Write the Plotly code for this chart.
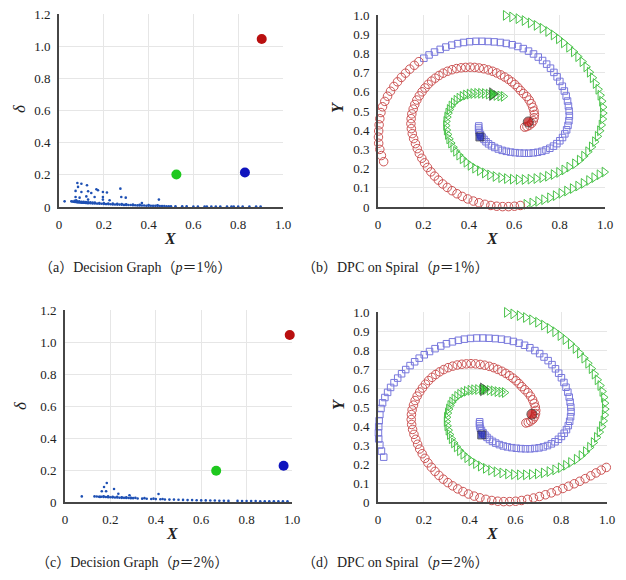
import plotly.graph_objects as go

W, H = 626, 580
PAGE_MARGIN = 8  # browser default body margin
FW, FH = W - PAGE_MARGIN, H - PAGE_MARGIN

# ---------------- Decision graph (p=1%) ----------------
a_band_x = [0.055, 0.06, 0.065, 0.07, 0.075, 0.08, 0.085, 0.09, 0.095, 0.10, 0.105, 0.11, 0.115, 0.12, 0.125, 0.13,
            0.14, 0.15, 0.16, 0.17, 0.18, 0.19, 0.20, 0.21, 0.22, 0.23, 0.24, 0.25, 0.26, 0.27, 0.28, 0.29,
            0.30, 0.31, 0.32, 0.33, 0.34, 0.35, 0.36, 0.37, 0.38, 0.39, 0.40, 0.41, 0.42, 0.43, 0.44, 0.45,
            0.46, 0.47, 0.48, 0.49, 0.50, 0.52, 0.55, 0.57, 0.60, 0.62, 0.65, 0.66, 0.68, 0.70, 0.72, 0.75,
            0.77, 0.78, 0.80, 0.82, 0.85, 0.88, 0.90,
            0.07, 0.08, 0.09, 0.10, 0.11, 0.12, 0.13, 0.14, 0.15, 0.16, 0.18, 0.20, 0.22, 0.24, 0.26, 0.28,
            0.30, 0.33, 0.36, 0.40, 0.44]
a_band_y = [0.035, 0.034, 0.033, 0.032, 0.031, 0.030, 0.029, 0.029, 0.028, 0.027, 0.027, 0.026, 0.026, 0.025, 0.025, 0.024,
            0.023, 0.022, 0.022, 0.021, 0.020, 0.020, 0.019, 0.018, 0.018, 0.017, 0.016, 0.016, 0.015, 0.015, 0.014, 0.013,
            0.013, 0.012, 0.012, 0.011, 0.011, 0.010, 0.010, 0.009, 0.009, 0.008, 0.008, 0.008, 0.007, 0.007, 0.007, 0.006,
            0.006, 0.006, 0.005, 0.005, 0.005, 0.004, 0.004, 0.004, 0.003, 0.003, 0.003, 0.003, 0.003, 0.003, 0.003, 0.003,
            0.003, 0.003, 0.003, 0.003, 0.003, 0.003, 0.003,
            0.038, 0.036, 0.035, 0.033, 0.032, 0.031, 0.030, 0.029, 0.028, 0.027, 0.025, 0.024, 0.022, 0.021, 0.020, 0.018,
            0.017, 0.016, 0.014, 0.012, 0.011]
a_sparse_x = [0.082, 0.100, 0.125, 0.085, 0.074, 0.100, 0.130, 0.167, 0.174, 0.274, 0.196, 0.214, 0.144,
              0.074, 0.092, 0.122, 0.159, 0.196, 0.278, 0.298, 0.077, 0.130, 0.226, 0.446, 0.025, 0.196, 0.37]
a_sparse_y = [0.149, 0.145, 0.135, 0.125, 0.100, 0.093, 0.098, 0.110, 0.104, 0.114, 0.093, 0.090, 0.087,
              0.062, 0.058, 0.066, 0.062, 0.062, 0.062, 0.058, 0.042, 0.046, 0.042, 0.046, 0.035, 0.046, 0.025]
a_centers_x = [0.905, 0.524, 0.830]
a_centers_y = [1.045, 0.202, 0.214]

# ---------------- Decision graph (p=2%) ----------------
c_band_x = [0.14, 0.15, 0.16, 0.17, 0.18, 0.19, 0.20, 0.21, 0.22, 0.23, 0.24, 0.25, 0.26, 0.27, 0.28, 0.29, 0.30,
            0.32, 0.34, 0.36, 0.38, 0.40, 0.42, 0.44, 0.46, 0.48, 0.50, 0.52, 0.54, 0.56, 0.58, 0.60, 0.62,
            0.64, 0.66, 0.68, 0.70, 0.72, 0.76, 0.78, 0.80, 0.82, 0.84, 0.86, 0.88, 0.90, 0.92, 0.94, 0.96, 0.98,
            0.17, 0.19, 0.21, 0.23, 0.25, 0.27, 0.29, 0.31, 0.35, 0.39, 0.43]
c_band_y = [0.034, 0.033, 0.033, 0.032, 0.031, 0.030, 0.030, 0.029, 0.028, 0.028, 0.027, 0.026, 0.026, 0.025, 0.025, 0.024, 0.024,
            0.022, 0.021, 0.020, 0.019, 0.018, 0.017, 0.016, 0.015, 0.015, 0.014, 0.013, 0.012, 0.012, 0.011, 0.010, 0.010,
            0.009, 0.009, 0.008, 0.008, 0.007, 0.007, 0.006, 0.006, 0.006, 0.006, 0.005, 0.005, 0.005, 0.005, 0.005, 0.005, 0.005,
            0.036, 0.035, 0.033, 0.032, 0.030, 0.029, 0.027, 0.026, 0.024, 0.021, 0.019]
c_sparse_x = [0.074, 0.130, 0.154, 0.162, 0.181, 0.172, 0.184, 0.216, 0.235, 0.284, 0.412]
c_sparse_y = [0.035, 0.035, 0.032, 0.067, 0.067, 0.094, 0.119, 0.081, 0.052, 0.042, 0.050]
c_centers_x = [0.990, 0.666, 0.963]
c_centers_y = [1.044, 0.195, 0.227]

# ---------------- Spiral data (true clusters, outer end -> inner end) ----------------
blue_x = [0.025, 0.015, 0.008, 0.003, 0.002, 0.003, 0.005, 0.008, 0.013, 0.020, 0.030, 0.042, 0.055, 0.070, 0.086,
          0.103, 0.121, 0.140, 0.160, 0.180, 0.202, 0.225, 0.249, 0.274, 0.299, 0.325, 0.351, 0.377, 0.404, 0.431,
          0.458, 0.485, 0.512, 0.539, 0.565, 0.591, 0.616, 0.640, 0.663, 0.685, 0.706, 0.725, 0.743, 0.760, 0.775,
          0.789, 0.801, 0.812, 0.821, 0.829, 0.835, 0.839, 0.842, 0.843, 0.841, 0.837, 0.831, 0.823, 0.813, 0.801,
          0.788, 0.773, 0.757, 0.740, 0.722, 0.703, 0.684, 0.664, 0.644, 0.624, 0.604, 0.584, 0.565, 0.547, 0.530,
          0.514, 0.500, 0.487, 0.476, 0.467, 0.459, 0.452, 0.447, 0.444, 0.443, 0.444]
blue_y = [0.236, 0.268, 0.300, 0.332, 0.364, 0.396, 0.428, 0.460, 0.492, 0.522, 0.550, 0.577, 0.603, 0.628, 0.652,
          0.675, 0.697, 0.718, 0.738, 0.757, 0.775, 0.792, 0.807, 0.821, 0.833, 0.843, 0.851, 0.857, 0.861, 0.863,
          0.863, 0.862, 0.860, 0.857, 0.852, 0.845, 0.836, 0.825, 0.812, 0.797, 0.781, 0.763, 0.744, 0.723, 0.701,
          0.678, 0.654, 0.629, 0.604, 0.578, 0.552, 0.526, 0.500, 0.474, 0.449, 0.425, 0.402, 0.381, 0.362, 0.345,
          0.330, 0.317, 0.306, 0.297, 0.290, 0.285, 0.282, 0.280, 0.280, 0.281, 0.283, 0.286, 0.290, 0.295, 0.302,
          0.310, 0.319, 0.329, 0.340, 0.352, 0.364, 0.376, 0.388, 0.400, 0.412, 0.422]

red_x = [0.997, 0.975, 0.952, 0.929, 0.905, 0.881, 0.857, 0.832, 0.807, 0.782, 0.757, 0.731, 0.705, 0.679, 0.653,
         0.627, 0.601, 0.575, 0.549, 0.523, 0.497, 0.471, 0.445, 0.420, 0.395, 0.371, 0.348, 0.326, 0.305, 0.285,
         0.266, 0.249, 0.233, 0.218, 0.205, 0.193, 0.182, 0.173, 0.165, 0.157, 0.151, 0.147, 0.145, 0.146, 0.149,
         0.155, 0.162, 0.171, 0.182, 0.194, 0.207, 0.221, 0.236, 0.252, 0.269, 0.287, 0.306, 0.326, 0.346, 0.366,
         0.386, 0.406, 0.426, 0.446, 0.466, 0.486, 0.505, 0.523, 0.541, 0.558, 0.574, 0.589, 0.603, 0.616, 0.628,
         0.641, 0.655, 0.666, 0.675, 0.682, 0.687, 0.689, 0.688, 0.684, 0.677, 0.667, 0.656, 0.646]
red_y = [0.182, 0.168, 0.153, 0.138, 0.123, 0.109, 0.096, 0.083, 0.071, 0.059, 0.048, 0.038, 0.029, 0.021, 0.014,
         0.008, 0.004, 0.002, 0.002, 0.004, 0.008, 0.014, 0.022, 0.031, 0.042, 0.055, 0.069, 0.085, 0.102, 0.120,
         0.140, 0.161, 0.183, 0.206, 0.230, 0.254, 0.279, 0.304, 0.330, 0.356, 0.382, 0.408, 0.434, 0.460, 0.485,
         0.510, 0.534, 0.557, 0.579, 0.600, 0.620, 0.639, 0.656, 0.671, 0.685, 0.697, 0.707, 0.715, 0.721, 0.725,
         0.727, 0.728, 0.727, 0.724, 0.720, 0.714, 0.707, 0.698, 0.688, 0.677, 0.665, 0.652, 0.638, 0.623, 0.607,
         0.591, 0.575, 0.557, 0.538, 0.519, 0.500, 0.482, 0.465, 0.449, 0.436, 0.426, 0.419, 0.416]

green_x = [0.562, 0.590, 0.618, 0.645, 0.672, 0.698, 0.724, 0.749, 0.773, 0.796, 0.818, 0.841, 0.862, 0.881, 0.900,
           0.917, 0.932, 0.945, 0.958, 0.970, 0.979, 0.986, 0.990, 0.991, 0.989, 0.984, 0.977, 0.967, 0.955, 0.941,
           0.925, 0.907, 0.888, 0.867, 0.842, 0.820, 0.797, 0.773, 0.748, 0.723, 0.697, 0.671, 0.645, 0.619, 0.593,
           0.567, 0.542, 0.517, 0.493, 0.470, 0.448, 0.427, 0.407, 0.389, 0.372, 0.357, 0.343, 0.331, 0.321, 0.313,
           0.307, 0.302, 0.299, 0.300, 0.304, 0.309, 0.315, 0.323, 0.333, 0.345, 0.358, 0.372, 0.387, 0.403, 0.419,
           0.436, 0.453, 0.470, 0.487, 0.504, 0.521, 0.538, 0.553]
green_y = [0.998, 0.990, 0.981, 0.971, 0.959, 0.946, 0.931, 0.914, 0.896, 0.876, 0.855, 0.832, 0.808, 0.783, 0.757,
           0.730, 0.702, 0.673, 0.643, 0.613, 0.582, 0.551, 0.520, 0.489, 0.458, 0.427, 0.397, 0.368, 0.340, 0.313,
           0.288, 0.265, 0.244, 0.225, 0.208, 0.193, 0.180, 0.169, 0.160, 0.153, 0.148, 0.145, 0.143, 0.143, 0.145,
           0.148, 0.153, 0.159, 0.167, 0.177, 0.189, 0.202, 0.217, 0.233, 0.251, 0.270, 0.290, 0.311, 0.333, 0.355,
           0.378, 0.401, 0.424, 0.446, 0.468, 0.489, 0.508, 0.526, 0.542, 0.556, 0.567, 0.576, 0.583, 0.588, 0.591,
           0.592, 0.592, 0.591, 0.588, 0.585, 0.581, 0.578, 0.576]

# DPC result at p=1%: outer blue arm points taken by red, outer red arm points taken by green
b_blue_to_red = 20
b_red_to_green = 15
# cluster centres (red, blue, green)
b_centers_x = [0.662, 0.449, 0.504]
b_centers_y = [0.443, 0.365, 0.588]
d_centers_x = [0.672, 0.453, 0.460]
d_centers_y = [0.462, 0.353, 0.593]

dg_ticks = [0, 0.2, 0.4, 0.6, 0.8, 1.0, 1.2]
dg_ticktext = ["0", "0.2", "0.4", "0.6", "0.8", "1.0", "1.2"]
x_ticks = [0, 0.2, 0.4, 0.6, 0.8, 1.0]
x_ticktext = ["0", "0.2", "0.4", "0.6", "0.8", "1.0"]
sp_ticks = [0, 0.1, 0.2, 0.3, 0.4, 0.5, 0.6, 0.7, 0.8, 0.9, 1.0]
sp_ticktext = ["0", "0.1", "0.2", "0.3", "0.4", "0.5", "0.6", "0.7", "0.8", "0.9", "1.0"]

captions = ["（a）Decision Graph（<i>p</i>＝1％）", "（b）DPC on Spiral（<i>p</i>＝1％）",
            "（c）Decision Graph（<i>p</i>＝2％）", "（d）DPC on Spiral（<i>p</i>＝2％）"]

FONT = "'Liberation Serif', 'Times New Roman', serif"
CAP_FONT = "'Liberation Serif', 'Noto Sans CJK SC', serif"
C_RED, C_BLUE, C_GREEN = "rgb(205,85,85)", "rgb(120,120,220)", "rgb(75,195,75)"


def px_x(p):
    return (p - PAGE_MARGIN) / FW


def px_y(p):
    return 1 - (p - PAGE_MARGIN) / FH


fig = go.Figure()

# ---- decision graphs
for ax, bx, by, sx, sy, cx, cy in [("", a_band_x, a_band_y, a_sparse_x, a_sparse_y, a_centers_x, a_centers_y),
                                   ("3", c_band_x, c_band_y, c_sparse_x, c_sparse_y, c_centers_x, c_centers_y)]:
    fig.add_trace(go.Scatter(x=bx + sx, y=by + sy, mode="markers", xaxis="x" + ax, yaxis="y" + ax,
                             marker=dict(size=2.6, color="rgb(30,80,180)", line=dict(width=0)),
                             showlegend=False, cliponaxis=False))
    fig.add_trace(go.Scatter(x=cx, y=cy, mode="markers", xaxis="x" + ax, yaxis="y" + ax,
                             marker=dict(size=10, color=["rgb(185,15,15)", "rgb(30,200,30)", "rgb(15,20,190)"],
                                         line=dict(width=0)),
                             showlegend=False, cliponaxis=False))


def spiral(ax, rx, ry, bxl, byl, gx, gy, cx, cy):
    fig.add_trace(go.Scatter(x=bxl, y=byl, mode="markers", xaxis="x" + ax, yaxis="y" + ax, showlegend=False,
                             cliponaxis=False,
                             marker=dict(symbol="square-open", size=6.5, color=C_BLUE, line=dict(width=1))))
    fig.add_trace(go.Scatter(x=gx, y=gy, mode="markers", xaxis="x" + ax, yaxis="y" + ax, showlegend=False,
                             cliponaxis=False,
                             marker=dict(symbol="triangle-right-open", size=8.5, color=C_GREEN, line=dict(width=1))))
    fig.add_trace(go.Scatter(x=rx, y=ry, mode="markers", xaxis="x" + ax, yaxis="y" + ax, showlegend=False,
                             cliponaxis=False,
                             marker=dict(symbol="circle-open", size=8.5, color=C_RED, line=dict(width=1))))
    fig.add_trace(go.Scatter(x=cx, y=cy, mode="markers", xaxis="x" + ax, yaxis="y" + ax, showlegend=False,
                             marker=dict(symbol=["circle", "square", "triangle-right"], size=[10, 8, 11],
                                         color=["rgb(190,20,20)", "rgb(20,30,170)", "rgb(20,180,20)"],
                                         line=dict(width=1, color="rgb(40,40,40)"))))


k, m = b_blue_to_red, b_red_to_green
spiral("2",
       blue_x[:k] + red_x[m:], blue_y[:k] + red_y[m:],
       blue_x[k:], blue_y[k:],
       green_x + red_x[:m], green_y + red_y[:m],
       b_centers_x, b_centers_y)
spiral("4", red_x, red_y, blue_x, blue_y, green_x, green_y, d_centers_x, d_centers_y)

# ---- axes (pixel boxes in the reference picture)
panels = {
    "": dict(xd=(59, 283), yd=(14, 207), yr=[0, 1.2], yt=dg_ticks, ytt=dg_ticktext),
    "2": dict(xd=(378, 605), yd=(15, 207), yr=[0, 1.0], yt=sp_ticks, ytt=sp_ticktext),
    "3": dict(xd=(65, 292), yd=(310, 502), yr=[0, 1.2], yt=dg_ticks, ytt=dg_ticktext),
    "4": dict(xd=(378, 607), yd=(312, 502), yr=[0, 1.0], yt=sp_ticks, ytt=sp_ticktext),
}
axstyle = dict(showline=True, linecolor="rgb(70,70,70)", linewidth=2, gridcolor="rgb(230,230,230)",
               gridwidth=1, zeroline=False, ticks="", tickfont=dict(family=FONT, size=13, color="#222"),
               ticklabelstandoff=4, automargin=False, ticklabeloverflow="allow")
lay = {}
for ax, p in panels.items():
    lay["xaxis" + ax] = dict(domain=[px_x(p["xd"][0]), px_x(p["xd"][1])], range=[0, 1.0],
                            tickvals=x_ticks, ticktext=x_ticktext, anchor="y" + ax, **axstyle)
    lay["yaxis" + ax] = dict(domain=[px_y(p["yd"][1]), px_y(p["yd"][0])], range=p["yr"],
                            tickvals=p["yt"], ticktext=p["ytt"], anchor="x" + ax, **axstyle)
fig.update_layout(**lay)

ann = []
common = dict(xref="paper", yref="paper", showarrow=False, xanchor="center", yanchor="middle")
for (x, y) in [(170, 238), (492, 238), (172, 533), (492, 533)]:
    ann.append(dict(x=px_x(x), y=px_y(y), text="<b><i>X</i></b>",
                    font=dict(family=FONT, size=16, color="#222"), **common))
for (x, y) in [(20, 108), (20, 405)]:
    ann.append(dict(x=px_x(x), y=px_y(y), text="<i>δ</i>", textangle=-90,
                    font=dict(family=FONT, size=17, color="#222"), **common))
for (x, y) in [(338, 108), (338, 405)]:
    ann.append(dict(x=px_x(x), y=px_y(y), text="<b><i>Y</i></b>", textangle=-90,
                    font=dict(family=FONT, size=16, color="#222"), **common))
for t, (x, y) in zip(captions, [(135, 267), (395, 267), (132, 562), (395, 562)]):
    ann.append(dict(x=px_x(x), y=px_y(y), text=t,
                    font=dict(family=CAP_FONT, size=14, color="#222"), **common))

fig.update_layout(width=FW, height=FH, margin=dict(l=0, r=0, t=0, b=0, autoexpand=False), paper_bgcolor="white",
                  plot_bgcolor="white", annotations=ann, showlegend=False)
fig.write_html("out.html")
